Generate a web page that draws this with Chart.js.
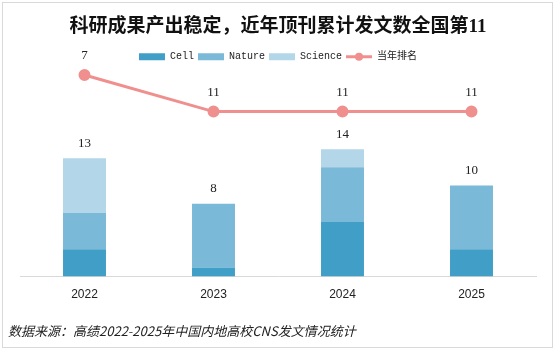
<!DOCTYPE html>
<html>
<head>
<meta charset="utf-8">
<script src="https://cdn.jsdelivr.net/npm/chart.js@4"></script>
<style>
  html, body { margin: 0; padding: 0; background: #fff; }
  #box {
    position: absolute; left: 2px; top: 2px;
    width: 549px; height: 344px;
    border: 1px solid #d9d9d9;
  }
  #foot {
    position: absolute; left: 5px; top: 318px;
    font: italic 13px "Noto Sans CJK SC", sans-serif;
    color: #222; white-space: nowrap;
  }
</style>
</head>
<body>
<div id="box">
  <canvas id="myChart" width="549" height="344"></canvas>
  <div id="foot">数据来源：高绩2022-2025年中国内地高校CNS发文情况统计</div>
</div>
<script>
var years = ['2022', '2023', '2024', '2025'];
var cellCount = [3, 1, 6, 3];
var natureCount = [4, 7, 6, 7];
var scienceCount = [6, 0, 2, 0];
var rankValues = [7, 11, 11, 11];

var lineColor = '#ef908f';

// numbers above the bars and the rank points, plus the dot on the legend line
var labelPlugin = {
    id: 'valueLabels',
    afterDraw: function (chart) {
        var ctx = chart.ctx;
        var x = chart.scales.x, y = chart.scales.y, y2 = chart.scales.y2;
        ctx.save();
        ctx.font = '13px "Liberation Serif", serif';
        ctx.fillStyle = '#222';
        ctx.textAlign = 'center';
        ctx.textBaseline = 'middle';
        for (var i = 0; i < years.length; i++) {
            var total = cellCount[i] + natureCount[i] + scienceCount[i];
            var px = x.getPixelForValue(i);
            ctx.fillText(total, px, y.getPixelForValue(total) - 15);
            ctx.fillText(rankValues[i], px, y2.getPixelForValue(rankValues[i]) - 19);
        }
        var hb = chart.legend.legendHitBoxes[3];
        if (hb) {
            ctx.fillStyle = lineColor;
            ctx.beginPath();
            ctx.arc(hb.left + 13, hb.top + hb.height / 2, 4, 0, Math.PI * 2);
            ctx.fill();
        }
        ctx.restore();
    }
};

var ctx1 = document.getElementById('myChart').getContext('2d');
var myChart = new Chart(ctx1, {
    type: 'bar',
    data: {
        labels: years,
        datasets: [{
            label: 'Cell',
            data: cellCount,
            backgroundColor: '#419fc7',
            stack: 's'
        }, {
            label: 'Nature',
            data: natureCount,
            backgroundColor: '#7ab9d7',
            stack: 's'
        }, {
            label: 'Science',
            data: scienceCount,
            backgroundColor: '#b3d7e8',
            stack: 's'
        }, {
            type: 'line',
            label: '当年排名',
            data: rankValues,
            yAxisID: 'y2',
            borderColor: lineColor,
            backgroundColor: lineColor,
            borderWidth: 3,
            pointRadius: 4.5,
            pointHoverRadius: 4.5,
            tension: 0,
            clip: false
        }]
    },
    options: {
        responsive: false,
        animation: false,
        layout: { padding: { left: 17, right: 16, bottom: 34 } },
        datasets: { bar: { categoryPercentage: 1, barPercentage: 0.333 } },
        scales: {
            x: {
                grid: { display: false, drawTicks: false },
                border: { color: '#d9d9d9', width: 1 },
                ticks: { color: '#222', padding: 11, font: { size: 12, family: 'Arial, "Liberation Sans", sans-serif' } }
            },
            y: {
                display: false,
                stacked: true,
                min: 0,
                max: 22.5
            },
            y2: {
                display: false,
                reverse: true,
                min: 6.65,
                max: 29.05
            }
        },
        plugins: {
            title: {
                display: true,
                text: '科研成果产出稳定，近年顶刊累计发文数全国第11',
                color: '#111',
                font: { size: 19, weight: 'bold', family: '"Liberation Serif", "Noto Sans CJK SC", serif' },
                padding: { top: 13, bottom: 9 }
            },
            legend: {
                display: true,
                labels: {
                    color: '#222',
                    font: { size: 10, family: '"Liberation Mono", "Noto Sans CJK SC", monospace' },
                    usePointStyle: true,
                    pointStyleWidth: 26,
                    boxWidth: 26,
                    boxHeight: 7,
                    padding: 4,
                    sort: function (a, b) { return a.datasetIndex - b.datasetIndex; },
                    generateLabels: function (chart) {
                        var items = Chart.defaults.plugins.legend.labels.generateLabels(chart);
                        items.forEach(function (it) {
                            if (it.datasetIndex === 3) {
                                it.pointStyle = 'line';
                                it.lineWidth = 3;
                                it.strokeStyle = lineColor;
                            } else {
                                it.pointStyle = 'rect';
                                it.lineWidth = 0;
                            }
                        });
                        return items;
                    }
                }
            },
            tooltip: { enabled: false }
        }
    },
    plugins: [labelPlugin]
});
</script>
</body>
</html>
